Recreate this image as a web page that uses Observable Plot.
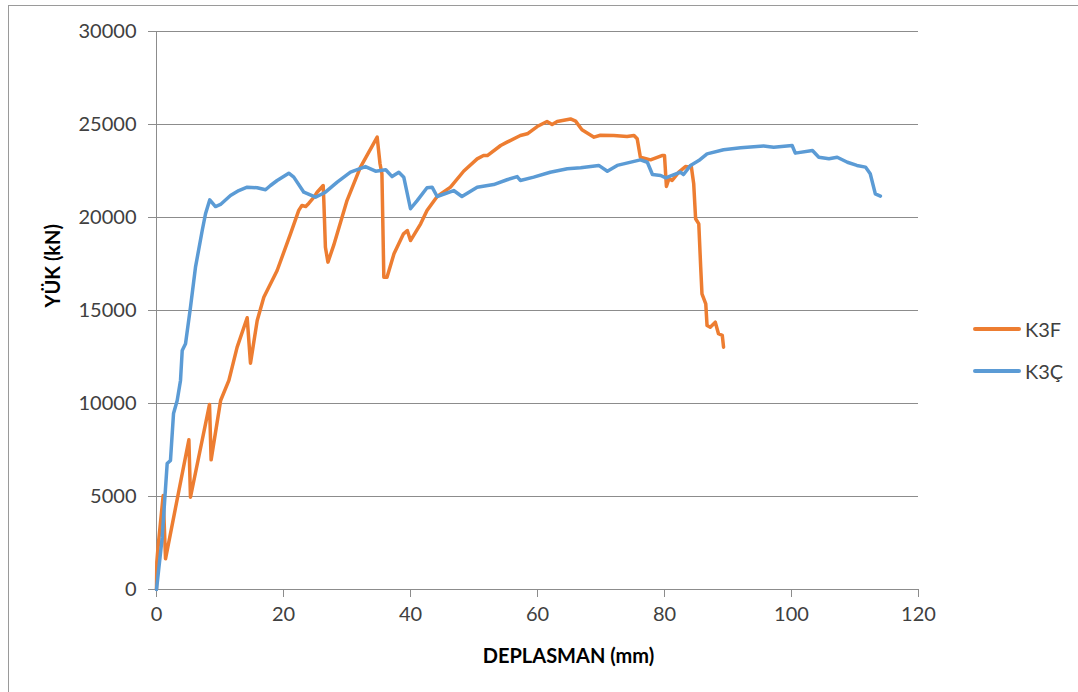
<!DOCTYPE html>
<html>
<head>
<meta charset="utf-8">
<script src="https://cdn.jsdelivr.net/npm/d3@7"></script>
<script src="https://cdn.jsdelivr.net/npm/@observablehq/plot@0.6"></script>
<style>
  html, body { margin: 0; padding: 0; background: #fff; overflow: hidden; }
  #wrap { position: relative; width: 1078px; height: 692px; font-family: Lato, "Open Sans", sans-serif; }
  #frame { position: absolute; left: 8px; top: 5px; width: 1100px; height: 720px; border: 1px solid #9a9a9a; box-sizing: border-box; }
  #chart { position: absolute; left: 0; top: 0; }
  .leg { position: absolute; left: 973px; display: flex; align-items: center; font-size: 20px; color: #404040; }
  .leg span.sw { display: inline-block; width: 48px; height: 3.5px; margin-right: 4px; border-radius: 2px; }
</style>
</head>
<body>
<div id="wrap">
  <div id="frame"></div>
  <div id="chart"></div>
  <div class="leg" style="top:317px"><span class="sw" style="background:#ED7D31"></span>K3F</div>
  <div class="leg" style="top:359px"><span class="sw" style="background:#5B9BD5"></span>K3Ç</div>
</div>
<script>
// Series names
const seriesNames = ["K3F", "K3Ç"];
const seriesColors = ["#ED7D31", "#5B9BD5"];

// K3F (orange): displacement (mm) and load (kN)
const k3fX = [0, 0.05, 0.25, 1.05, 1.42, 5.1, 5.35, 8.35, 8.6, 10.1, 11.4, 12.7, 14.28, 14.8, 15.86, 16.9, 19.0, 21.1, 22.4, 22.9, 23.5, 24.0, 24.8, 25.3, 26.25, 26.35, 26.6, 27.0, 27.9, 30.0, 32.1, 34.75, 35.2, 35.5, 35.8, 36.3, 37.4, 38.9, 39.5, 40.0, 41.6, 42.6, 44.2, 46.3, 48.4, 50.5, 51.5, 52.1, 54.2, 55.2, 57.3, 58.4, 59.95, 61.5, 62.3, 63.1, 65.2, 66.0, 67.0, 68.9, 69.9, 72.0, 74.1, 75.2, 75.7, 76.2, 77.8, 79.6, 80.0, 80.3, 80.7, 81.2, 82.25, 83.3, 83.8, 84.2, 84.6, 84.9, 85.4, 85.7, 85.9, 86.5, 86.7, 87.2, 88.0, 88.5, 89.1, 89.3];
const k3fY = [0, 1470, 2300, 5050, 1650, 8050, 4960, 9950, 6970, 10160, 11240, 13030, 14610, 12170, 14460, 15710, 17150, 19120, 20380, 20650, 20590, 20770, 21090, 21360, 21720, 20910, 18400, 17600, 18500, 20910, 22700, 24320, 22890, 22350, 16790, 16790, 18050, 19120, 19300, 18760, 19660, 20380, 21130, 21630, 22500, 23150, 23330, 23330, 23870, 24050, 24410, 24500, 24890, 25160, 25000, 25160, 25300, 25180, 24720, 24320, 24420, 24410, 24350, 24410, 24230, 23240, 23100, 23330, 23330, 21670, 22080, 21990, 22440, 22740, 22710, 22800, 21810, 19930, 19660, 17330, 15900, 15360, 14190, 14100, 14370, 13750, 13660, 13030];

// K3Ç (blue)
const k3cX = [0, 0.9, 1.68, 2.2, 2.68, 3.26, 3.78, 4.05, 4.57, 5.35, 6.14, 7.2, 7.72, 8.39, 9.29, 10.08, 11.65, 12.96, 14.28, 15.86, 17.17, 17.95, 19.0, 20.83, 21.62, 23.2, 25.04, 26.6, 28.46, 30.55, 32.9, 34.5, 36.1, 37.1, 38.16, 38.94, 40.0, 41.05, 42.6, 43.4, 44.2, 46.8, 48.1, 50.5, 53.1, 55.2, 56.8, 57.3, 59.4, 62.0, 64.7, 66.8, 69.65, 71.0, 72.55, 76.2, 77.3, 78.1, 79.4, 80.2, 82.5, 83.0, 84.1, 85.4, 86.7, 89.3, 92.0, 95.6, 97.2, 100.1, 100.6, 103.3, 104.3, 105.9, 107.2, 108.8, 110.3, 111.65, 112.4, 113.2, 114.0];
const k3cY = [0, 2810, 6770, 6940, 9460, 10160, 11240, 12850, 13210, 15180, 17330, 19300, 20200, 20950, 20590, 20700, 21180, 21450, 21630, 21600, 21490, 21720, 21990, 22380, 22170, 21360, 21090, 21360, 21900, 22440, 22740, 22490, 22565, 22200, 22435, 22170, 20470, 20910, 21600, 21630, 21130, 21450, 21130, 21630, 21770, 22030, 22200, 21990, 22170, 22435, 22620, 22670, 22800, 22490, 22800, 23100, 22970, 22310, 22260, 22130, 22440, 22310, 22800, 23060, 23420, 23640, 23750, 23850, 23780, 23870, 23460, 23600, 23240, 23160, 23240, 22970, 22800, 22710, 22350, 21270, 21150];

// Axis ticks and titles
const xTicks = [0, 20, 40, 60, 80, 100, 120];
const yTicks = [0, 5000, 10000, 15000, 20000, 25000, 30000];
const xTitle = "DEPLASMAN (mm)";
const yTitle = "YÜK (kN)";

const k3f = k3fX.map((x, i) => ({x, y: k3fY[i], s: seriesNames[0]}));
const k3c = k3cX.map((x, i) => ({x, y: k3cY[i], s: seriesNames[1]}));

const gridColor = "#8c8c8c";

const chart = Plot.plot({
  width: 1078,
  height: 692,
  marginLeft: 156,
  marginRight: 160,
  marginTop: 31,
  marginBottom: 103,
  style: {fontFamily: "Lato, 'Open Sans', sans-serif", background: "transparent", overflow: "visible"},
  x: {domain: [0, 120]},
  y: {domain: [0, 30000]},
  marks: [
    Plot.ruleY(yTicks.filter(d => d > 0), {stroke: gridColor, strokeWidth: 1}),
    Plot.ruleX([0], {stroke: gridColor, strokeWidth: 1}),
    Plot.ruleY([0], {stroke: gridColor, strokeWidth: 1}),
    Plot.axisX({ticks: xTicks, tickSize: 8, tickPadding: 9, fontSize: 20, label: null, stroke: gridColor, fill: "#404040"}),
    Plot.axisY({ticks: yTicks, tickSize: 8, tickPadding: 12, fontSize: 20, label: null, stroke: gridColor, fill: "#404040", tickFormat: d => String(d)}),
    Plot.line(k3f, {x: "x", y: "y", stroke: seriesColors[0], strokeWidth: 3.5, strokeLinejoin: "round", strokeLinecap: "round"}),
    Plot.line(k3c, {x: "x", y: "y", stroke: seriesColors[1], strokeWidth: 3.5, strokeLinejoin: "round", strokeLinecap: "round"}),
    Plot.text([xTitle], {frameAnchor: "bottom", dx: 31, dy: 73, fontSize: 20, fontWeight: "bold", fill: "#000"}),
    Plot.text([yTitle], {frameAnchor: "left", dx: -103, dy: -3, rotate: -90, fontSize: 20, fontWeight: "bold", fill: "#000"})
  ]
});
document.getElementById("chart").appendChild(chart);
</script>
</body>
</html>
